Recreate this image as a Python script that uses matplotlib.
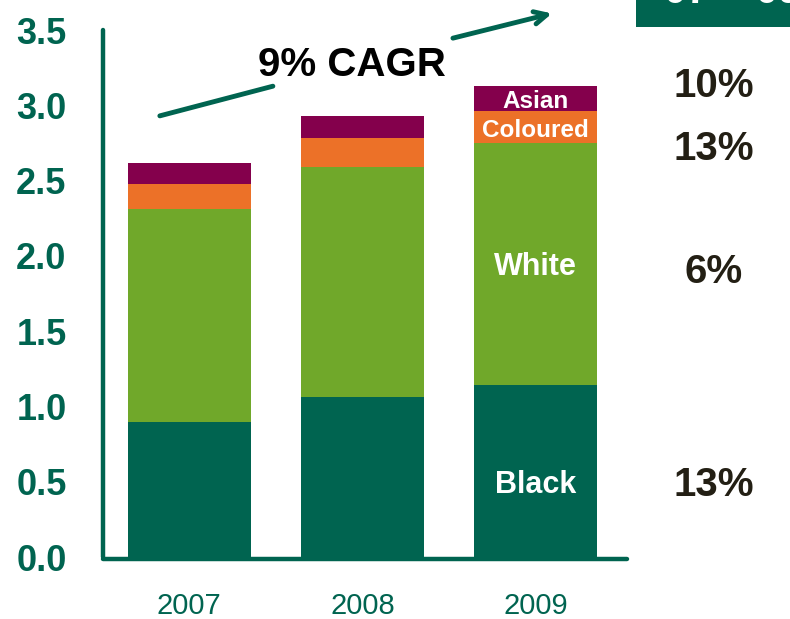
import matplotlib.pyplot as plt
from matplotlib.patches import Rectangle

plt.rcParams['font.family'] = ['Liberation Sans', 'DejaVu Sans']

years = ['2007', '2008', '2009']
black = [0.90, 1.06, 1.14]
white = [1.41, 1.53, 1.61]
coloured = [0.17, 0.19, 0.21]
asian = [0.14, 0.15, 0.17]

segments = ['Black', 'White', 'Coloured', 'Asian']
growth = ['13%', '6%', '13%', '10%']
growth_y = [0.48, 1.89, 2.71, 3.13]

dark_green = '#006450'
colors = ['#006450', '#70A82A', '#EC7128', '#84004C']

fig = plt.figure(figsize=(7.9, 6.19), dpi=100)
ax = fig.add_axes([0.130, 0.100, 0.664, 0.8515])

x = range(len(years))
bottom = [0, 0, 0]
mids = []
for vals, c in zip([black, white, coloured, asian], colors):
    ax.bar(x, vals, width=0.71, bottom=bottom, color=c, zorder=2)
    mids.append(bottom[-1] + vals[-1] / 2)
    bottom = [b + v for b, v in zip(bottom, vals)]

ax.set_xlim(-0.5, 2.53)
ax.set_ylim(0, 3.5)
ax.set_yticks([0, 0.5, 1.0, 1.5, 2.0, 2.5, 3.0, 3.5])
ax.set_yticklabels(['0.0', '0.5', '1.0', '1.5', '2.0', '2.5', '3.0', '3.5'])
ax.set_xticks(list(x))
ax.set_xticklabels(years)
ax.tick_params(length=0, colors=dark_green)
ax.tick_params(axis='y', pad=26)
ax.tick_params(axis='x', pad=24, labelsize=21)
for lab in ax.get_yticklabels():
    lab.set_fontweight('bold')
    lab.set_fontsize(26)

for side in ['top', 'right']:
    ax.spines[side].set_visible(False)
for side in ['left', 'bottom']:
    ax.spines[side].set_color(dark_green)
    ax.spines[side].set_linewidth(3.2)
    ax.spines[side].set_capstyle('round')
ax.spines['bottom'].set_position(('data', -0.01))

# segment names inside the last bar
mids[0] = 0.50
for name, y in zip(segments, mids):
    size = 22 if name in ('Black', 'White') else 17.5
    ax.text(2, y - 0.02, name, color='white', fontsize=size, fontweight='bold',
            ha='center', va='center', zorder=3)

# growth rates down the right side
for g, y in zip(growth, growth_y):
    ax.text(3.03, y, g, color='#231F14', fontsize=29, fontweight='bold',
            ha='center', va='center', clip_on=False)

# overall growth arrow, broken around its label
ax.plot([-0.17, 0.483], [2.93, 3.127], color=dark_green, lw=3.5,
        solid_capstyle='round', clip_on=False)
ax.annotate('', xy=(2.095, 3.61), xytext=(1.523, 3.446),
            arrowprops=dict(arrowstyle='->,head_length=0.9,head_width=0.45',
                            color=dark_green, lw=3.5, capstyle='round',
                            shrinkA=0, shrinkB=0),
            annotation_clip=False)
ax.text(0.94, 3.27, '9% CAGR', color='black', fontsize=29, fontweight='bold',
        ha='center', va='center', zorder=5)

# header box in the corner
fig.patches.append(Rectangle((0.805, 0.956), 0.2, 0.05, transform=fig.transFigure,
                             facecolor=dark_green, edgecolor='none'))
fig.text(0.92, 0.995, '\u201907 - \u201909', color='white', fontsize=29,
         fontweight='bold', ha='center', va='baseline')

fig.savefig('out.png', dpi=100)
